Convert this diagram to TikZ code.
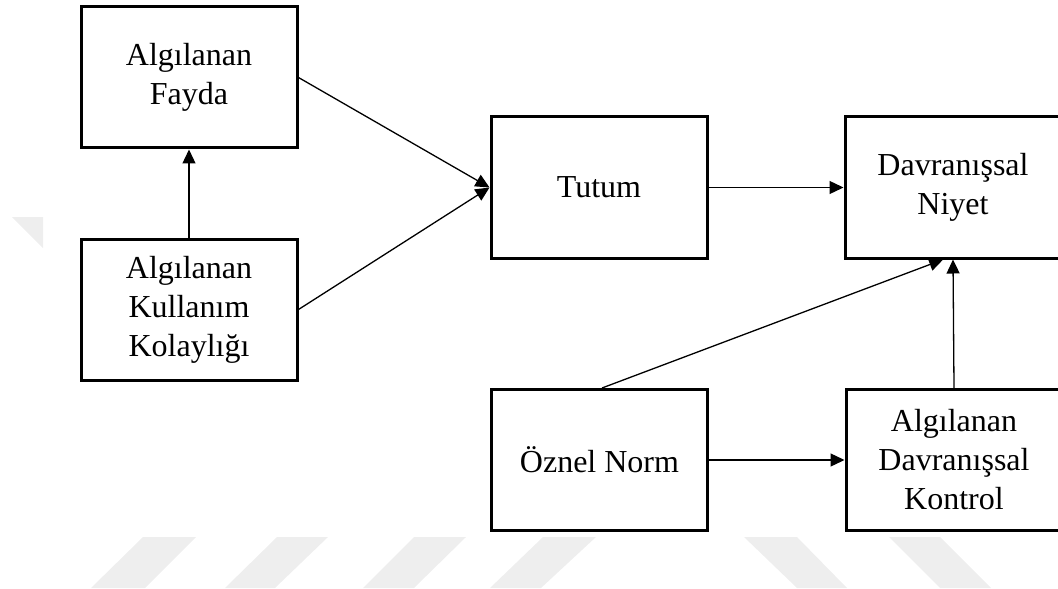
\documentclass[tikz,border=0pt]{standalone}
\usepackage{fontspec}
\setmainfont{Liberation Serif}
\usetikzlibrary{arrows.meta,calc}
\definecolor{wmark}{HTML}{EEEEEE}
\begin{document}
\begin{tikzpicture}[x=0.5pt,y=-0.5pt,
  box/.style={draw,line width=1.5pt,rectangle,align=center,inner sep=0pt,
    minimum width=108pt,minimum height=70.5pt,
    font=\fontsize{16pt}{19.5pt}\selectfont},
  link/.style={line width=0.65pt,-{Triangle[length=7pt,width=6.5pt]}},
  stripe/.style={fill=wmark,draw=none}]
\useasboundingbox (0,0) rectangle (1058,588);
\clip (0,0) rectangle (1058,588);
% faint background stripes
\fill[stripe] (143,537) -- (196,537) -- (145,588) -- (91,588) -- cycle;
\fill[stripe] (277,537) -- (328,537) -- (275,588) -- (225,588) -- cycle;
\fill[stripe] (414,537) -- (466,537) -- (414,588) -- (363,588) -- cycle;
\fill[stripe] (543,537) -- (596,537) -- (541,588) -- (490,588) -- cycle;
\fill[stripe] (744,537) -- (797,537) -- (847,588) -- (797,588) -- cycle;
\fill[stripe] (889,537) -- (940,537) -- (991,588) -- (940,588) -- cycle;
\fill[stripe] (12,217) -- (43,217) -- (43,248) -- cycle;
% boxes
\node[box] (fayda)   at (189,77.5)  {Algılanan\\Fayda};
\node[box] (kolay)   at (189,309.5) {Algılanan\\Kullanım\\Kolaylığı};
\node[box] (tutum)   at (599,187.5) {Tutum};
\node[box] (niyet)   at (953,187.5) {Davranışsal\\Niyet};
\node[box] (oznel)   at (599.5,460) {Öznel Norm};
\node[box] (kontrol) at (954,460)   {Algılanan\\Davranışsal\\Kontrol};
% connectors
\draw[link] (kolay.north) -- (fayda.south);
\draw[link] (fayda.east) -- (tutum.west);
\draw[link] (kolay.east) -- (tutum.west);
\draw[link] (tutum.east) -- (niyet.west);
\draw[link] (oznel.east) -- (kontrol.west);
\draw[link] (kontrol.north) -- (niyet.south);
\draw[link] ($(oznel.north)+(2.5,0)$) -- ($(niyet.south west)!0.455!(niyet.south east)$);
\end{tikzpicture}
\end{document}
